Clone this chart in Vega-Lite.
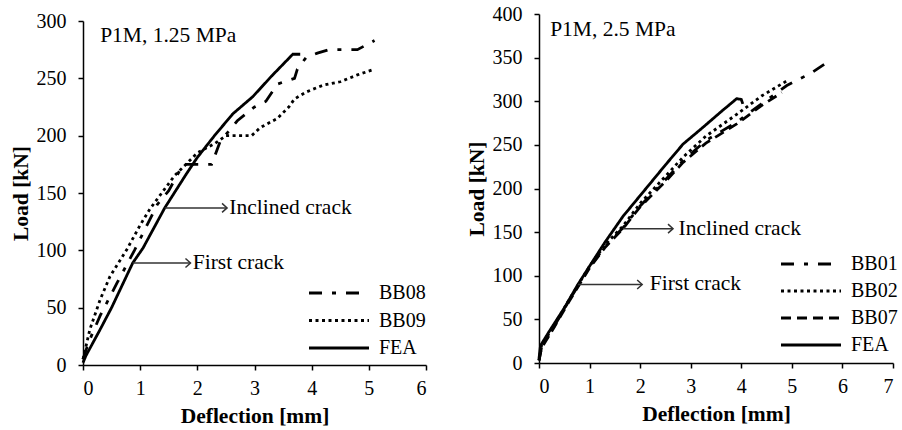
{
  "$schema": "https://vega.github.io/schema/vega-lite/v6.json",
  "background": "white",
  "padding": {"left": 10, "top": 4, "right": 2, "bottom": 2},
  "spacing": 39,
  "config": {
    "font": "Liberation Serif",
    "view": {"stroke": null},
    "axis": {"domainColor": "black", "tickColor": "black", "labelColor": "black", "titleColor": "black", "labelFontSize": 20, "titleFontSize": 21.5, "titleFontWeight": "bold", "grid": false, "tickSize": 5, "domainWidth": 1.5, "tickWidth": 1.5, "labelFont": "Liberation Serif", "titleFont": "Liberation Serif"},
    "axisX": {"labelPadding": 8, "titlePadding": 7},
    "axisY": {"labelPadding": 12, "titlePadding": 4},
    "legend": {"labelFontSize": 20, "labelColor": "black", "labelFont": "Liberation Serif"}
  },
  "resolve": {"scale": {"strokeDash": "independent"}, "legend": {"strokeDash": "independent"}},
  "datasets": {
    "left": [
      {"s": "FEA", "x": 0, "y": 2}, {"s": "FEA", "x": 0.05, "y": 8}, {"s": "FEA", "x": 0.3, "y": 31}, {"s": "FEA", "x": 0.5, "y": 50}, {"s": "FEA", "x": 0.87, "y": 89}, {"s": "FEA", "x": 1.05, "y": 102}, {"s": "FEA", "x": 1.43, "y": 137}, {"s": "FEA", "x": 1.8, "y": 166}, {"s": "FEA", "x": 2.0, "y": 181}, {"s": "FEA", "x": 2.3, "y": 200}, {"s": "FEA", "x": 2.62, "y": 219}, {"s": "FEA", "x": 2.97, "y": 234}, {"s": "FEA", "x": 3.3, "y": 252}, {"s": "FEA", "x": 3.67, "y": 271}, {"s": "FEA", "x": 3.8, "y": 271},
      {"s": "BB08", "x": 0, "y": 5}, {"s": "BB08", "x": 0.1, "y": 20}, {"s": "BB08", "x": 0.3, "y": 43}, {"s": "BB08", "x": 0.6, "y": 72}, {"s": "BB08", "x": 0.9, "y": 100}, {"s": "BB08", "x": 1.1, "y": 120}, {"s": "BB08", "x": 1.3, "y": 140}, {"s": "BB08", "x": 1.5, "y": 152}, {"s": "BB08", "x": 1.75, "y": 175}, {"s": "BB08", "x": 2.25, "y": 175}, {"s": "BB08", "x": 2.4, "y": 195}, {"s": "BB08", "x": 2.7, "y": 213}, {"s": "BB08", "x": 3.0, "y": 225}, {"s": "BB08", "x": 3.2, "y": 230}, {"s": "BB08", "x": 3.4, "y": 245}, {"s": "BB08", "x": 3.7, "y": 250}, {"s": "BB08", "x": 3.75, "y": 258}, {"s": "BB08", "x": 3.9, "y": 268}, {"s": "BB08", "x": 4.1, "y": 272}, {"s": "BB08", "x": 4.3, "y": 275}, {"s": "BB08", "x": 4.8, "y": 275}, {"s": "BB08", "x": 5.1, "y": 283},
      {"s": "BB09", "x": 0, "y": 5}, {"s": "BB09", "x": 0.12, "y": 31}, {"s": "BB09", "x": 0.3, "y": 57}, {"s": "BB09", "x": 0.47, "y": 77}, {"s": "BB09", "x": 0.77, "y": 101}, {"s": "BB09", "x": 1.0, "y": 122}, {"s": "BB09", "x": 1.17, "y": 136}, {"s": "BB09", "x": 1.6, "y": 165}, {"s": "BB09", "x": 2.0, "y": 185}, {"s": "BB09", "x": 2.3, "y": 193}, {"s": "BB09", "x": 2.5, "y": 200}, {"s": "BB09", "x": 2.95, "y": 200}, {"s": "BB09", "x": 3.1, "y": 207}, {"s": "BB09", "x": 3.4, "y": 215}, {"s": "BB09", "x": 3.6, "y": 225}, {"s": "BB09", "x": 3.7, "y": 232}, {"s": "BB09", "x": 3.9, "y": 238}, {"s": "BB09", "x": 4.2, "y": 244}, {"s": "BB09", "x": 4.5, "y": 247}, {"s": "BB09", "x": 4.8, "y": 253}, {"s": "BB09", "x": 5.1, "y": 258}
    ],
    "leftArrows": [
      {"x1": 0.87, "x2": 1.88, "y": 89, "label": "First crack", "tx": 1.92},
      {"x1": 1.43, "x2": 2.52, "y": 137, "label": "Inclined crack", "tx": 2.56}
    ],
    "right": [
      {"s": "FEA", "x": 0, "y": 5}, {"s": "FEA", "x": 0.03, "y": 20}, {"s": "FEA", "x": 0.2, "y": 36}, {"s": "FEA", "x": 0.5, "y": 63}, {"s": "FEA", "x": 0.77, "y": 90}, {"s": "FEA", "x": 1.0, "y": 111}, {"s": "FEA", "x": 1.3, "y": 138}, {"s": "FEA", "x": 1.66, "y": 168}, {"s": "FEA", "x": 2.13, "y": 201}, {"s": "FEA", "x": 2.5, "y": 227}, {"s": "FEA", "x": 2.85, "y": 251}, {"s": "FEA", "x": 3.2, "y": 268}, {"s": "FEA", "x": 3.6, "y": 288}, {"s": "FEA", "x": 3.91, "y": 303}, {"s": "FEA", "x": 4.0, "y": 302}, {"s": "FEA", "x": 4.03, "y": 297},
      {"s": "BB01", "x": 0, "y": 3}, {"s": "BB01", "x": 0.05, "y": 18}, {"s": "BB01", "x": 0.3, "y": 42}, {"s": "BB01", "x": 0.6, "y": 72}, {"s": "BB01", "x": 1.0, "y": 110}, {"s": "BB01", "x": 1.3, "y": 133}, {"s": "BB01", "x": 1.66, "y": 155}, {"s": "BB01", "x": 2.0, "y": 180}, {"s": "BB01", "x": 2.5, "y": 210}, {"s": "BB01", "x": 2.85, "y": 232}, {"s": "BB01", "x": 3.3, "y": 255}, {"s": "BB01", "x": 3.91, "y": 276}, {"s": "BB01", "x": 4.4, "y": 297}, {"s": "BB01", "x": 4.9, "y": 318}, {"s": "BB01", "x": 5.4, "y": 333}, {"s": "BB01", "x": 5.79, "y": 348},
      {"s": "BB02", "x": 0, "y": 3}, {"s": "BB02", "x": 0.05, "y": 20}, {"s": "BB02", "x": 0.3, "y": 43}, {"s": "BB02", "x": 0.6, "y": 73}, {"s": "BB02", "x": 1.0, "y": 111}, {"s": "BB02", "x": 1.3, "y": 135}, {"s": "BB02", "x": 1.66, "y": 157}, {"s": "BB02", "x": 2.0, "y": 183}, {"s": "BB02", "x": 2.5, "y": 214}, {"s": "BB02", "x": 2.85, "y": 236}, {"s": "BB02", "x": 3.3, "y": 260}, {"s": "BB02", "x": 3.91, "y": 285}, {"s": "BB02", "x": 4.4, "y": 306}, {"s": "BB02", "x": 4.92, "y": 324},
      {"s": "BB07", "x": 0, "y": 3}, {"s": "BB07", "x": 0.05, "y": 17}, {"s": "BB07", "x": 0.3, "y": 41}, {"s": "BB07", "x": 0.6, "y": 71}, {"s": "BB07", "x": 1.0, "y": 109}, {"s": "BB07", "x": 1.3, "y": 132}, {"s": "BB07", "x": 1.66, "y": 154}, {"s": "BB07", "x": 2.0, "y": 179}, {"s": "BB07", "x": 2.5, "y": 208}, {"s": "BB07", "x": 2.85, "y": 230}, {"s": "BB07", "x": 3.3, "y": 252}, {"s": "BB07", "x": 3.91, "y": 274}, {"s": "BB07", "x": 4.4, "y": 295}, {"s": "BB07", "x": 4.8, "y": 310}
    ],
    "rightArrows": [
      {"x1": 0.77, "x2": 2.04, "y": 90, "label": "First crack", "tx": 2.19},
      {"x1": 1.66, "x2": 2.65, "y": 154, "label": "Inclined crack", "tx": 2.76}
    ]
  },
  "hconcat": [
    {
      "width": 343,
      "height": 351,
      "layer": [
        {
          "data": {"name": "left"},
          "mark": {"type": "line", "color": "black", "strokeWidth": 2.8},
          "encoding": {
            "x": {"field": "x", "type": "quantitative", "scale": {"domain": [0, 6], "nice": false, "padding": 0, "zero": false}, "axis": {"title": "Deflection [mm]", "values": [0, 1, 2, 3, 4, 5, 6], "format": "d"}},
            "y": {"field": "y", "type": "quantitative", "scale": {"domain": [0, 300], "range": [351, 7], "nice": false, "padding": 0, "zero": false}, "axis": {"title": "Load [kN]", "values": [0, 50, 100, 150, 200, 250, 300], "format": "d"}},
            "strokeDash": {"field": "s", "type": "nominal", "scale": {"domain": ["BB08", "BB09", "FEA"], "range": [[13, 10, 4, 10], [3, 3.5], [1, 0]]},
              "legend": {"title": null, "orient": "none", "legendX": 246, "legendY": 269, "symbolType": "M-6,0L6,0", "symbolSize": 100, "symbolStrokeWidth": 3, "symbolStrokeColor": "black", "rowPadding": 7.5, "labelOffset": 30}}
          }
        },
        {
          "data": {"name": "leftArrows"},
          "mark": {"type": "rule", "color": "#333", "strokeWidth": 1.5},
          "encoding": {"x": {"field": "x1", "type": "quantitative", "scale": {"domain": [0, 6], "nice": false, "padding": 0, "zero": false}}, "x2": {"field": "x2"}, "y": {"field": "y", "type": "quantitative", "scale": {"domain": [0, 300], "range": [351, 7], "nice": false, "padding": 0, "zero": false}}}
        },
        {
          "data": {"name": "leftArrows"},
          "mark": {"type": "point", "shape": "M-1,-0.9L0,0L-1,0.9", "filled": false, "color": "#333", "strokeWidth": 1.5, "size": 100, "opacity": 1},
          "encoding": {"x": {"field": "x2", "type": "quantitative"}, "y": {"field": "y", "type": "quantitative"}}
        },
        {
          "data": {"name": "leftArrows"},
          "mark": {"type": "text", "align": "left", "baseline": "middle", "fontSize": 21.5, "color": "black", "font": "Liberation Serif"},
          "encoding": {"x": {"field": "tx", "type": "quantitative"}, "y": {"field": "y", "type": "quantitative"}, "text": {"field": "label"}}
        },
        {
          "data": {"values": [{"x": 0.3, "y": 287, "t": "P1M, 1.25 MPa"}]},
          "mark": {"type": "text", "align": "left", "baseline": "middle", "fontSize": 21.5, "color": "black", "font": "Liberation Serif"},
          "encoding": {"x": {"field": "x", "type": "quantitative"}, "y": {"field": "y", "type": "quantitative"}, "text": {"field": "t"}}
        }
      ]
    },
    {
      "width": 354,
      "height": 349,
      "layer": [
        {
          "data": {"name": "right"},
          "mark": {"type": "line", "color": "black", "strokeWidth": 2.8},
          "encoding": {
            "x": {"field": "x", "type": "quantitative", "scale": {"domain": [0, 7], "nice": false, "padding": 0, "zero": false}, "axis": {"title": "Deflection [mm]", "values": [0, 1, 2, 3, 4, 5, 6, 7], "format": "d"}},
            "y": {"field": "y", "type": "quantitative", "scale": {"domain": [0, 400], "nice": false, "padding": 0, "zero": false}, "axis": {"title": "Load [kN]", "values": [0, 50, 100, 150, 200, 250, 300, 350, 400], "format": "d"}},
            "strokeDash": {"field": "s", "type": "nominal", "scale": {"domain": ["BB01", "BB02", "BB07", "FEA"], "range": [[13, 10, 4, 10], [3, 3.5], [10, 6], [1, 0]]},
              "legend": {"title": null, "orient": "none", "legendX": 262, "legendY": 240, "symbolType": "M-6,0L6,0", "symbolSize": 100, "symbolStrokeWidth": 3, "symbolStrokeColor": "black", "rowPadding": 7, "labelOffset": 30}}
          }
        },
        {
          "data": {"name": "rightArrows"},
          "mark": {"type": "rule", "color": "#333", "strokeWidth": 1.5},
          "encoding": {"x": {"field": "x1", "type": "quantitative", "scale": {"domain": [0, 7], "nice": false, "padding": 0, "zero": false}}, "x2": {"field": "x2"}, "y": {"field": "y", "type": "quantitative", "scale": {"domain": [0, 400], "nice": false, "padding": 0, "zero": false}}}
        },
        {
          "data": {"name": "rightArrows"},
          "mark": {"type": "point", "shape": "M-1,-0.9L0,0L-1,0.9", "filled": false, "color": "#333", "strokeWidth": 1.5, "size": 100, "opacity": 1},
          "encoding": {"x": {"field": "x2", "type": "quantitative"}, "y": {"field": "y", "type": "quantitative"}}
        },
        {
          "data": {"name": "rightArrows"},
          "mark": {"type": "text", "align": "left", "baseline": "middle", "fontSize": 21.5, "color": "black", "font": "Liberation Serif"},
          "encoding": {"x": {"field": "tx", "type": "quantitative"}, "y": {"field": "y", "type": "quantitative"}, "text": {"field": "label"}}
        },
        {
          "data": {"values": [{"x": 0.22, "y": 382, "t": "P1M, 2.5 MPa"}]},
          "mark": {"type": "text", "align": "left", "baseline": "middle", "fontSize": 21.5, "color": "black", "font": "Liberation Serif"},
          "encoding": {"x": {"field": "x", "type": "quantitative"}, "y": {"field": "y", "type": "quantitative"}, "text": {"field": "t"}}
        }
      ]
    }
  ]
}
